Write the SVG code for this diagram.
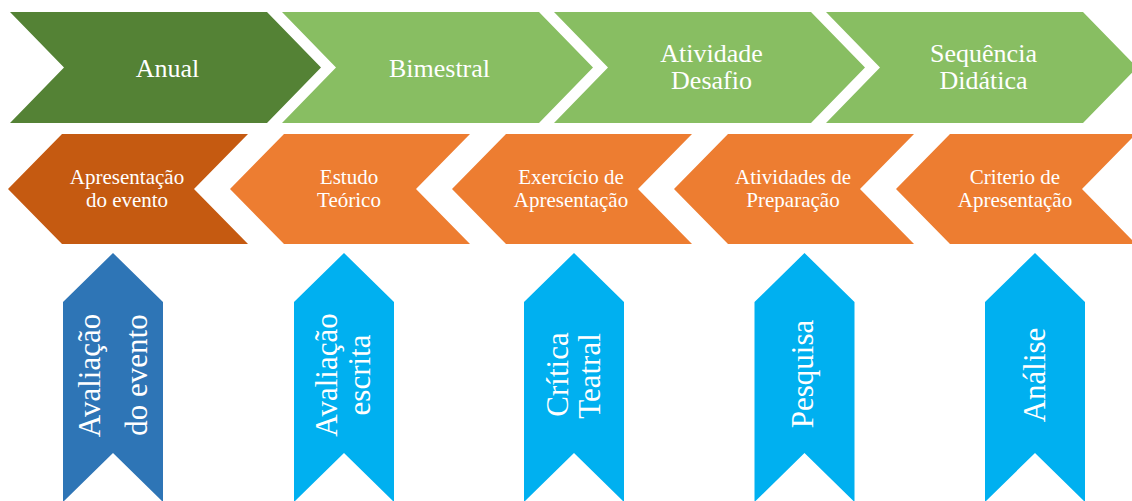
<svg xmlns="http://www.w3.org/2000/svg" width="1132" height="501" viewBox="0 0 1132 501">
<style>
.lbl{font-family:"Liberation Serif","Times New Roman",serif;fill:#ffffff;text-anchor:middle}
.t1{font-size:26px}
.t2{font-size:21px}
.t3{font-size:31px}
.gd{fill:#548235}.gl{fill:#88BE62}
.od{fill:#C55A11}.ol{fill:#ED7D31}
.bd{fill:#2E75B6}.bl{fill:#00B0F0}
</style>
<defs>
<polygon id="chevR" points="0,12 257,12 311,67.5 257,123 0,123 54,67.5"/>
<polygon id="chevL" points="0,189 54,134 240,134 186,189 240,244 54,244"/>
<polygon id="chevD" points="0,302 50,253 100,302 100,502 50,453 0,502"/>
</defs>
<rect width="1132" height="501" fill="#ffffff"/>
<g id="connectors"/>

<g id="anual"><use href="#chevR" x="10" class="gd"/><text class="lbl t1" x="167.5" y="76.7">Anual</text></g>
<g id="bimestral"><use href="#chevR" x="282" class="gl"/><text class="lbl t1" x="439.5" y="76.7">Bimestral</text></g>
<g id="atividade-desafio"><use href="#chevR" x="554" class="gl"/><text class="lbl t1" x="711.5" y="61.7">Atividade</text><text class="lbl t1" x="711.5" y="89.3">Desafio</text></g>
<g id="sequencia-didatica"><use href="#chevR" x="826" class="gl"/><text class="lbl t1" x="983.5" y="61.7">Sequência</text><text class="lbl t1" x="983.5" y="89.3">Didática</text></g>

<g id="apresentacao-evento"><use href="#chevL" x="8" class="od"/><text class="lbl t2" x="127" y="184">Apresentação</text><text class="lbl t2" x="127" y="207">do evento</text></g>
<g id="estudo-teorico"><use href="#chevL" x="230" class="ol"/><text class="lbl t2" x="349" y="184">Estudo</text><text class="lbl t2" x="349" y="207">Teórico</text></g>
<g id="exercicio-apresentacao"><use href="#chevL" x="452" class="ol"/><text class="lbl t2" x="571" y="184">Exercício de</text><text class="lbl t2" x="571" y="207">Apresentação</text></g>
<g id="atividades-preparacao"><use href="#chevL" x="674" class="ol"/><text class="lbl t2" x="793" y="184">Atividades de</text><text class="lbl t2" x="793" y="207">Preparação</text></g>
<g id="criterio-apresentacao"><use href="#chevL" x="896" class="ol"/><text class="lbl t2" x="1015" y="184">Criterio de</text><text class="lbl t2" x="1015" y="207">Apresentação</text></g>

<g id="avaliacao-evento"><use href="#chevD" x="63" class="bd"/><text class="lbl t3" transform="translate(100,375.5) rotate(-90)">Avaliação</text><text class="lbl t3" transform="translate(147,375) rotate(-90)">do evento</text></g>
<g id="avaliacao-escrita"><use href="#chevD" x="294" class="bl"/><text class="lbl t3" transform="translate(336.7,375) rotate(-90)">Avaliação</text><text class="lbl t3" transform="translate(370,375) rotate(-90)">escrita</text></g>
<g id="critica-teatral"><use href="#chevD" x="524" class="bl"/><text class="lbl t3" transform="translate(568,374.5) rotate(-90)">Crítica</text><text class="lbl t3" transform="translate(600,376) rotate(-90)">Teatral</text></g>
<g id="pesquisa"><use href="#chevD" x="754.5" class="bl"/><text class="lbl t3" transform="translate(813,374) rotate(-90)">Pesquisa</text></g>
<g id="analise"><use href="#chevD" x="985" class="bl"/><text class="lbl t3" transform="translate(1045,375) rotate(-90)">Análise</text></g>
</svg>
